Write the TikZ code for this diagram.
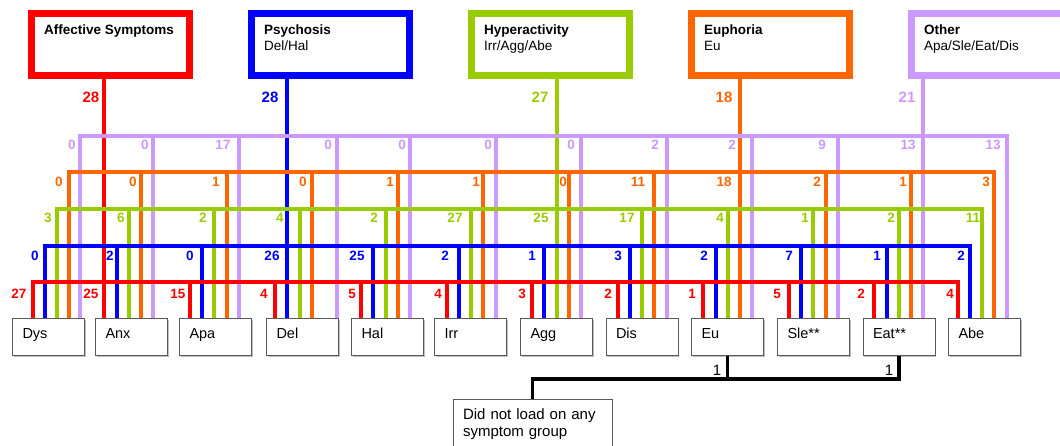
\documentclass[tikz,border=0pt]{standalone}
\usepackage{fontspec}
\setmainfont{Liberation Sans}
\usetikzlibrary{shadows}
\definecolor{cR}{HTML}{FF0000}
\definecolor{cB}{HTML}{0000FF}
\definecolor{cG}{HTML}{99CC00}
\definecolor{cO}{HTML}{FF6600}
\definecolor{cP}{HTML}{CC99FF}
\begin{document}
\begin{tikzpicture}[x=1pt,y=-1pt,
  topbox/.style={draw=#1,line width=7pt,minimum width=158pt,minimum height=61.7pt,inner sep=0pt},
  ttl/.style={anchor=base west,inner sep=0pt,font=\fontsize{13.5}{16}\selectfont\bfseries},
  sub/.style={anchor=base west,inner sep=0pt,font=\fontsize{13.5}{16}\selectfont},
  symbox/.style={draw=black!65,line width=1pt,minimum width=72pt,minimum height=37pt,inner sep=0pt,
    text width=52pt,align=left,text height=10pt,text depth=8pt,font=\fontsize{14.5}{17}\selectfont,
    fill=white,drop shadow={shadow xshift=1.2pt,shadow yshift=-1.2pt,fill=black!25,opacity=1}},
  dnlbox/.style={draw=black!65,line width=1pt,inner xsep=10pt,inner ysep=9.5pt,text width=139pt,
    align=left,font=\fontsize{15}{17}\selectfont,fill=white},
  ln/.style={line width=4pt,draw=#1},
  blk/.style={line width=3.5pt,draw=black},
  blab/.style={inner sep=0pt,font=\fontsize{13.5}{16}\selectfont\bfseries,text=#1},
  tlab/.style={inner sep=0pt,font=\fontsize{15}{18}\selectfont\bfseries,text=#1},
  one/.style={inner sep=0pt,font=\fontsize{15}{18}\selectfont},
]
\useasboundingbox (0,0) rectangle (1060,446);

% ---------- top group boxes ----------
\node[topbox=cR] (aff) at (110.5,44.35) {};
\node[topbox=cB] (psy) at (330.5,44.35) {};
\node[topbox=cG] (hyp) at (550.5,44.35) {};
\node[topbox=cO] (eup) at (770.5,44.35) {};
\node[topbox=cP] (oth) at (990.5,44.35) {};
\node[ttl] (aff-t) at (44,35) {Affective Symptoms};
\node[ttl] (psy-t) at (264,35) {Psychosis};
\node[sub] (psy-s) at (264,51) {Del/Hal};
\node[ttl] (hyp-t) at (484,35) {Hyperactivity};
\node[sub] (hyp-s) at (484,51) {Irr/Agg/Abe};
\node[ttl] (eup-t) at (704,35) {Euphoria};
\node[sub] (eup-s) at (704,51) {Eu};
\node[ttl] (oth-t) at (924,35) {Other};
\node[sub] (oth-s) at (924,51) {Apa/Sle/Eat/Dis};

% ---------- symptom boxes ----------
\foreach \b/\t/\cx in {dys/Dys/48.5,anx/Anx/131.5,apa/Apa/215.5,del/Del/302.5,hal/Hal/387.5,
  irr/Irr/470.5,agg/Agg/556.5,dis/Dis/642,eu/Eu/727.5,sle/Sle**/813.5,eat/Eat**/899,abe/Abe/984.5}
  \node[symbox] (\b) at (\cx,337) {\t};

% ---------- bus coordinates ----------
\foreach \b/\x in {dys/33,anx/104,apa/190,del/275,hal/361,irr/447,agg/532,dis/618,eu/703,sle/789,eat/874,abe/958}
  \coordinate (R-\b) at (\x,282);
\foreach \b/\x in {dys/45,anx/117,apa/202,del/287,hal/373,irr/459,agg/544,dis/630,eu/716,sle/801,eat/887,abe/970}
  \coordinate (B-\b) at (\x,246);
\foreach \b/\x in {dys/57,anx/129,apa/214,del/300,hal/386,irr/471,agg/557,dis/642,eu/728,sle/813,eat/899,abe/982}
  \coordinate (G-\b) at (\x,209);
\foreach \b/\x in {dys/69,anx/141,apa/227,del/312,hal/398,irr/483,agg/569,dis/654,eu/740,sle/826,eat/911,abe/994}
  \coordinate (O-\b) at (\x,172);
\foreach \b/\x in {dys/80,anx/153,apa/239,del/337,hal/410,irr/496,agg/581,dis/667,eu/752,sle/838,eat/923,abe/1007}
  \coordinate (P-\b) at (\x,136);

% ---------- vertical legs (below the buses) ----------
% purple
\foreach \b in {anx,apa,del,hal,irr,agg,dis,eu,sle}
  \draw[ln=cP] (P-\b) -- (P-\b |- \b.north);
\draw[ln=cP] (oth.south -| P-eat) -- (P-eat |- eat.north);
\draw[ln=cP] (P-dys |- dys.north) -- (P-dys) -- (P-abe) -- (P-abe |- abe.north);
% orange
\foreach \b in {anx,apa,del,hal,irr,agg,dis,sle,eat}
  \draw[ln=cO] (O-\b) -- (O-\b |- \b.north);
\draw[ln=cO] (eup.south -| O-eu) -- (O-eu |- eu.north);
\draw[ln=cO] (O-dys |- dys.north) -- (O-dys) -- (O-abe) -- (O-abe |- abe.north);
% green
\foreach \b in {anx,apa,del,hal,irr,dis,eu,sle,eat}
  \draw[ln=cG] (G-\b) -- (G-\b |- \b.north);
\draw[ln=cG] (hyp.south -| G-agg) -- (G-agg |- agg.north);
\draw[ln=cG] (G-dys |- dys.north) -- (G-dys) -- (G-abe) -- (G-abe |- abe.north);
% blue
\foreach \b in {anx,apa,hal,irr,agg,dis,eu,sle,eat}
  \draw[ln=cB] (B-\b) -- (B-\b |- \b.north);
\draw[ln=cB] (psy.south -| B-del) -- (B-del |- del.north);
\draw[ln=cB] (B-dys |- dys.north) -- (B-dys) -- (B-abe) -- (B-abe |- abe.north);
% red
\foreach \b in {apa,del,hal,irr,agg,dis,eu,sle,eat}
  \draw[ln=cR] (R-\b) -- (R-\b |- \b.north);
\draw[ln=cR] (aff.south -| R-anx) -- (R-anx |- anx.north);
\draw[ln=cR] (R-dys |- dys.north) -- (R-dys) -- (R-abe) -- (R-abe |- abe.north);

% ---------- horizontal buses (on top) ----------
\draw[ln=cP] (P-dys) -- (P-abe);
\draw[ln=cO] (O-dys) -- (O-abe);
\draw[ln=cG] (G-dys) -- (G-abe);
\draw[ln=cB] (B-dys) -- (B-abe);
\draw[ln=cR] (R-dys) -- (R-abe);

% ---------- trunk labels ----------
\node[tlab=cR] (tR) at (91,97) {28};
\node[tlab=cB] (tB) at (270,97) {28};
\node[tlab=cG] (tG) at (540,97) {27};
\node[tlab=cO] (tO) at (724,97) {18};
\node[tlab=cP] (tP) at (907,97) {21};

% ---------- branch labels ----------
\foreach \b/\n/\cx in {dys/0/72,anx/0/145,apa/17/223,del/0/328,hal/0/402,irr/0/488,agg/0/571,dis/2/655,eu/2/732,sle/9/822,eat/13/908,abe/13/993}
  \node[blab=cP] (lP-\b) at (\cx,145) {\n};
\foreach \b/\n/\cx in {dys/0/59,anx/0/133,apa/1/216,del/0/303,hal/1/390,irr/1/476,agg/0/563,dis/11/638,eu/18/724,sle/2/817,eat/1/903,abe/3/986}
  \node[blab=cO] (lO-\b) at (\cx,182) {\n};
\foreach \b/\n/\cx in {dys/3/48,anx/6/121,apa/2/203,del/4/280,hal/2/374,irr/27/455,agg/25/541,dis/17/627,eu/4/720,sle/1/805,eat/2/891,abe/11/973}
  \node[blab=cG] (lG-\b) at (\cx,218) {\n};
\foreach \b/\n/\cx in {dys/0/35,anx/2/110,apa/0/190,del/26/272,hal/25/357,irr/2/445,agg/1/532,dis/3/618,eu/2/704,sle/7/789,eat/1/877,abe/2/961}
  \node[blab=cB] (lB-\b) at (\cx,256) {\n};
\foreach \b/\n/\cx in {dys/27/19,anx/25/91,apa/15/178,del/4/264,hal/5/352,irr/4/438,agg/3/522,dis/2/608,eu/1/692,sle/5/777,eat/2/861,abe/4/950}
  \node[blab=cR] (lR-\b) at (\cx,294) {\n};

% ---------- not loaded ----------
\node[dnlbox,anchor=north] (dnl) at (532.5,399) {Did not load on any\\symptom group};
\coordinate (jn) at (727.5,379);
\draw[blk] (eu.south) -- (jn) -| (dnl.north);
\draw[blk] (eat.south) |- (jn);
\node[one] (one-eu) at (717,370) {1};
\node[one] (one-eat) at (889,370) {1};
\end{tikzpicture}
\end{document}
